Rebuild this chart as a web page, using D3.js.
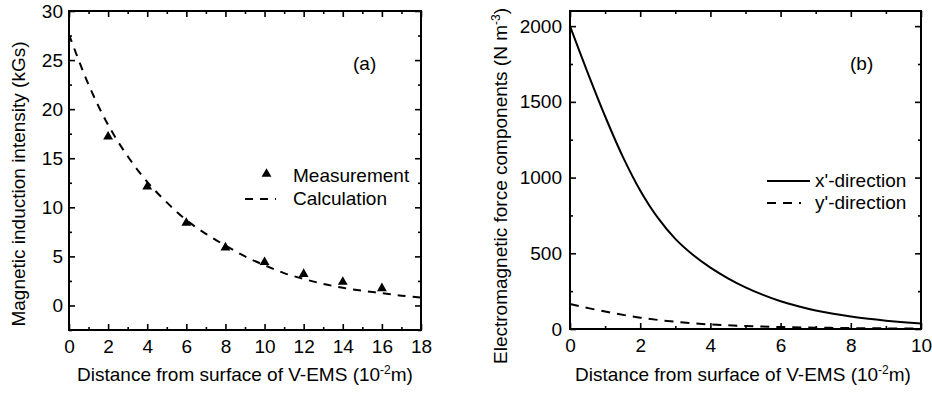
<!DOCTYPE html>
<html>
<head>
<meta charset="utf-8">
<script src="https://d3js.org/d3.v7.min.js"></script>
<style>
  body { margin: 0; background: #fff; }
  text { font-family: "Liberation Sans", Arial, sans-serif; fill: #000; }
</style>
</head>
<body>
<div id="chart"></div>
<script>
// panel (a) - measured and calculated magnetic induction
var measDist = [2, 4, 6, 8, 10, 12, 14, 16]
var measB = [17.2, 12.1, 8.4, 5.9, 4.4, 3.2, 2.4, 1.75]
var calcDist = [0, 1, 2, 3, 4, 5, 6, 7, 8, 9, 10, 11, 12, 13, 14, 15, 16, 17, 18]
var calcB = [27.6, 22.5, 18.4, 15.2, 12.6, 10.5, 8.7, 7.3, 6.1, 5.0, 4.1, 3.3, 2.7, 2.2, 1.8, 1.5, 1.25, 1.0, 0.8]

// panel (b) - force components
var fxDist = [0, 0.5, 1, 1.5, 2, 2.5, 3, 3.5, 4, 4.5, 5, 5.5, 6, 6.5, 7, 7.5, 8, 8.5, 9, 9.5, 10]
var fxVal = [2000, 1695, 1405, 1140, 915, 735, 595, 490, 405, 335, 275, 225, 183, 150, 122, 100, 82, 67, 55, 45, 37]
var fyDist = [0, 1, 2, 3, 4, 5, 6, 7, 8, 9, 10]
var fyVal = [165, 115, 75, 48, 30, 20, 13, 9, 6, 4, 3]

var aTicksX = [0, 2, 4, 6, 8, 10, 12, 14, 16, 18]
var aMinorX = [1, 3, 5, 7, 9, 11, 13, 15, 17]
var aTicksY = [0, 5, 10, 15, 20, 25, 30]
var aMinorY = [-2.5, 2.5, 7.5, 12.5, 17.5, 22.5, 27.5]
var bTicksX = [0, 2, 4, 6, 8, 10]
var bMinorX = [1, 3, 5, 7, 9]
var bTicksY = [0, 500, 1000, 1500, 2000]
var bMinorY = [250, 750, 1250, 1750]

var W = 932, H = 396
var svg = d3.select("#chart").append("svg")
  .attr("width", W)
  .attr("height", H)

function panel(box, xdom, ydom, tx, mx, ty, my, padY) {
  var x = d3.scaleLinear().domain(xdom).range([box.x0, box.x1])
  var y = d3.scaleLinear().domain(ydom).range([box.y1, box.y0])
  var g = svg.append("g")

  // major + minor ticks on all four sides, pointing inward
  function ax(gen, tr, vals, size, labels, pad) {
    var a = gen.tickValues(vals).tickSizeInner(-size).tickSizeOuter(0).tickPadding(pad)
    if (!labels) a.tickFormat("")
    else a.tickFormat(d3.format("d"))
    var s = g.append("g").attr("transform", tr).call(a)
    s.select(".domain").remove()
    s.selectAll(".tick line").attr("stroke", "#000").attr("stroke-width", 1.6)
    s.selectAll("text").attr("font-size", 19).attr("fill", "#000")
      .style("font-family", '"Liberation Sans", Arial, sans-serif')
    return s
  }
  ax(d3.axisBottom(x), "translate(0," + box.y1 + ")", tx, 6, true, 10)
  ax(d3.axisBottom(x), "translate(0," + box.y1 + ")", mx, 3, false, 0)
  ax(d3.axisTop(x), "translate(0," + box.y0 + ")", tx, 6, false, 0)
  ax(d3.axisTop(x), "translate(0," + box.y0 + ")", mx, 3, false, 0)
  ax(d3.axisLeft(y), "translate(" + box.x0 + ",0)", ty, 6, true, padY)
  ax(d3.axisLeft(y), "translate(" + box.x0 + ",0)", my, 3, false, 0)
  ax(d3.axisRight(y), "translate(" + box.x1 + ",0)", ty, 6, false, 0)
  ax(d3.axisRight(y), "translate(" + box.x1 + ",0)", my, 3, false, 0)

  g.append("rect")
    .attr("x", box.x0).attr("y", box.y0)
    .attr("width", box.x1 - box.x0).attr("height", box.y1 - box.y0)
    .attr("fill", "none").attr("stroke", "#000").attr("stroke-width", 2)

  return { x: x, y: y, g: g }
}

// ---------- panel (a) ----------
var pa = panel({ x0: 69, x1: 421, y0: 11, y1: 330 }, [0, 18], [-2.5, 30],
  aTicksX, aMinorX, aTicksY, aMinorY, 6)

var lineA = d3.line()
  .x(function (d, i) { return pa.x(calcDist[i]) })
  .y(function (d) { return pa.y(d) })
  .curve(d3.curveCatmullRom)

pa.g.append("path")
  .datum(calcB)
  .attr("d", lineA)
  .attr("fill", "none")
  .attr("stroke", "#000")
  .attr("stroke-width", 2)
  .attr("stroke-dasharray", "8,7")

var tri = d3.symbol().type(d3.symbolTriangle).size(42)
pa.g.selectAll(".meas")
  .data(measB)
  .enter().append("path")
  .attr("class", "meas")
  .attr("d", tri)
  .attr("transform", function (d, i) { return "translate(" + pa.x(measDist[i]) + "," + pa.y(d) + ")" })
  .attr("fill", "#000")

// legend (a)
pa.g.append("path").attr("d", tri).attr("transform", "translate(266.5,174)").attr("fill", "#000")
pa.g.append("text").attr("x", 293).attr("y", 182).attr("font-size", 19).text("Measurement")
pa.g.append("line").attr("x1", 245).attr("x2", 276).attr("y1", 199).attr("y2", 199)
  .attr("stroke", "#000").attr("stroke-width", 2).attr("stroke-dasharray", "8,7")
pa.g.append("text").attr("x", 293).attr("y", 205).attr("font-size", 19).text("Calculation")
pa.g.append("text").attr("x", 353).attr("y", 70).attr("font-size", 19).text("(a)")

// ---------- panel (b) ----------
var pb = panel({ x0: 570, x1: 921, y0: 11, y1: 329 }, [0, 10], [0, 2100],
  bTicksX, bMinorX, bTicksY, bMinorY, 8)

var lineB = d3.line()
  .x(function (d) { return pb.x(d[0]) })
  .y(function (d) { return pb.y(d[1]) })
  .curve(d3.curveCatmullRom)

pb.g.append("path")
  .datum(d3.zip(fxDist, fxVal))
  .attr("d", lineB)
  .attr("fill", "none").attr("stroke", "#000").attr("stroke-width", 2)

pb.g.append("path")
  .datum(d3.zip(fyDist, fyVal))
  .attr("d", lineB)
  .attr("fill", "none").attr("stroke", "#000").attr("stroke-width", 2)
  .attr("stroke-dasharray", "9,7")

// legend (b)
pb.g.append("line").attr("x1", 767).attr("x2", 810).attr("y1", 181).attr("y2", 181)
  .attr("stroke", "#000").attr("stroke-width", 2)
pb.g.append("text").attr("x", 815).attr("y", 187).attr("font-size", 19).text("x'-direction")
pb.g.append("line").attr("x1", 767).attr("x2", 801).attr("y1", 203).attr("y2", 203)
  .attr("stroke", "#000").attr("stroke-width", 2).attr("stroke-dasharray", "9,7")
pb.g.append("text").attr("x", 815).attr("y", 209).attr("font-size", 19).text("y'-direction")
pb.g.append("text").attr("x", 850).attr("y", 70).attr("font-size", 19).text("(b)")

// ---------- axis titles ----------
function xTitle(cx) {
  var t = svg.append("text").attr("x", cx).attr("y", 381)
    .attr("text-anchor", "middle").attr("font-size", 19)
  t.append("tspan").text("Distance from surface of V-EMS (10")
  t.append("tspan").attr("dy", -7).attr("font-size", 12).text("-2")
  t.append("tspan").attr("dy", 7).text("m)")
}
xTitle(245)
xTitle(743)

svg.append("text")
  .attr("transform", "translate(25,184) rotate(-90)")
  .attr("text-anchor", "middle").attr("font-size", 19)
  .text("Magnetic induction intensity (kGs)")

var ty = svg.append("text")
  .attr("transform", "translate(507,186) rotate(-90)")
  .attr("text-anchor", "middle").attr("font-size", 19)
ty.append("tspan").text("Electromagnetic force components (N m")
ty.append("tspan").attr("dy", -7).attr("font-size", 12).text("-3")
ty.append("tspan").attr("dy", 7).text(")")
</script>
</body>
</html>
